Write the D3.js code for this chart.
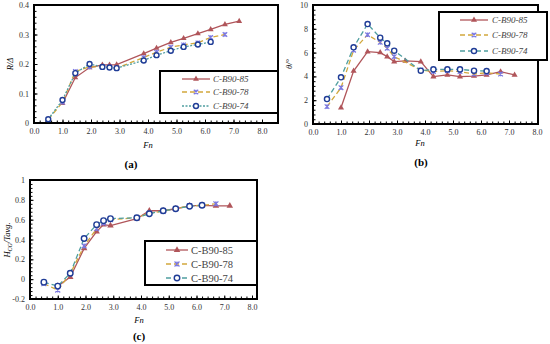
<!DOCTYPE html>
<html>
<head>
<meta charset="utf-8">
<script src="https://cdn.jsdelivr.net/npm/d3@7"></script>
<style>
  body { margin: 0; background: #fff; }
  svg { display: block; font-family: "Liberation Serif", "Times New Roman", serif; }
</style>
</head>
<body>
<div class="chart"></div>
<script>
// series names
var names = ['C-B90-85', 'C-B90-78', 'C-B90-74'];
var xTickLabels = ['0.0','1.0','2.0','3.0','4.0','5.0','6.0','7.0','8.0'];

// Froude numbers per series
var fn85 = [1.0,1.45,1.95,2.4,2.65,2.9,3.85,4.3,4.8,5.25,5.75,6.2,6.7,7.2];
var fn85b = [1.0,1.45,1.95,2.4,2.65,2.9,3.3,3.85,4.3,4.8,5.25,5.75,6.2,6.7,7.2];
var fn78 = [0.5,1.0,1.45,1.95,2.4,2.65,2.9,3.85,4.3,4.8,5.25,5.75,6.2,6.7];
var fn74 = [0.5,1.0,1.45,1.95,2.4,2.65,2.9,3.85,4.3,4.8,5.25,5.75,6.2];

// (a) R/Delta
var rA85 = [0.067,0.154,0.188,0.197,0.197,0.198,0.235,0.254,0.273,0.287,0.303,0.317,0.334,0.345];
var rA78 = [0.012,0.07,0.175,0.19,0.19,0.19,0.186,0.222,0.24,0.257,0.265,0.272,0.29,0.3];
var rA74 = [0.013,0.078,0.169,0.2,0.19,0.188,0.186,0.212,0.23,0.245,0.258,0.266,0.275];

// (b) theta
var thB85 = [1.37,4.45,6.08,6.0,5.66,5.24,5.3,5.24,3.98,4.12,3.98,4.03,4.12,4.4,4.12];
var thB78 = [1.46,3.05,6.2,7.5,6.86,6.36,5.66,4.54,4.4,4.48,4.4,4.2,4.3,4.2];
var thB74 = [2.1,3.92,6.44,8.4,7.25,6.78,6.16,4.48,4.59,4.59,4.59,4.48,4.45];

// (c) Hcg/Tavg
var hC85 = [-0.07,0.02,0.31,0.48,0.55,0.54,0.61,0.69,0.69,0.71,0.74,0.745,0.74,0.74];
var hC78 = [-0.045,-0.11,0.055,0.335,0.51,0.565,0.6,0.62,0.665,0.685,0.71,0.74,0.745,0.76];
var hC74 = [-0.03,-0.07,0.06,0.41,0.55,0.59,0.61,0.62,0.66,0.69,0.71,0.735,0.745];

var yTicksA = [0,0.1,0.2,0.3,0.4];
var yTicksB = [0,2,4,6,8,10];
var yTicksC = [-0.2,0,0.2,0.4,0.6,0.8,1];

// look of the three series
var styles = [
  {line:'#b0555a', dash:null, marker:'tri', mk:'#b0555a'},
  {line:'#d2a83c', dash:'5,3', marker:'x', mk:'#7b78e0'},
  {line:'#4f9ea0', dash:'3,2', marker:'circ', mk:'#1f3c96'}
];

var svg = d3.select('.chart').append('svg')
  .attr('width', 550).attr('height', 344)
  .style('background', '#fff');

function panel(p) {
  var g = svg.append('g');
  var x = d3.scaleLinear().domain([0, 8]).range([p.x0, p.x8]);
  var y = d3.scaleLinear().domain(p.yDom).range([p.bottom, p.top]);

  // minor ticks
  g.append('g').attr('transform', 'translate(0,' + p.bottom + ')')
    .call(d3.axisBottom(x).tickValues(d3.range(0, 8.01, 0.2)).tickSize(-2.5).tickFormat(''))
    .call(function(s){ s.select('.domain').remove(); });
  g.append('g').attr('transform', 'translate(' + p.x0 + ',0)')
    .call(d3.axisLeft(y).tickValues(d3.range(p.yDom[0], p.yDom[1] + p.yMinor/2, p.yMinor)).tickSize(-2.5).tickFormat(''))
    .call(function(s){ s.select('.domain').remove(); });

  // labelled axes
  var xa = g.append('g').attr('transform', 'translate(0,' + p.bottom + ')')
    .call(d3.axisBottom(x).tickValues(d3.range(0, 9)).tickSize(-3.5).tickPadding(5)
      .tickFormat(function(d, i){ return xTickLabels[i]; }));
  var ya = g.append('g').attr('transform', 'translate(' + p.x0 + ',0)')
    .call(d3.axisLeft(y).tickValues(p.yTicks).tickSize(-3.5).tickPadding(5).tickFormat(p.yFmt));
  [xa, ya].forEach(function(a){
    a.select('.domain').remove();
    a.selectAll('text').attr('font-size', 8).attr('fill', '#333')
      .attr('font-family', '"Liberation Serif", serif');
  });
  g.selectAll('.tick line').attr('stroke', '#000').attr('stroke-width', 1);

  // frame
  g.append('rect').attr('x', p.x0).attr('y', p.top)
    .attr('width', p.right - p.x0).attr('height', p.bottom - p.top)
    .attr('fill', 'none').attr('stroke', '#000').attr('stroke-width', 2);

  // series
  p.series.forEach(function(s, i){
    var st = styles[i];
    var pts = s.fn.map(function(f, k){ return [x(f), y(s.v[k])]; });
    g.append('path').attr('d', d3.line()(pts))
      .attr('fill', 'none').attr('stroke', st.line).attr('stroke-width', 1.3)
      .attr('stroke-dasharray', i == 2 ? p.dash74 : st.dash);
    pts.forEach(function(q){ marker(g, st, q[0], q[1], p.mr); });
  });

  // legend
  var L = p.legend;
  g.append('rect').attr('x', L.x).attr('y', L.y).attr('width', L.w).attr('height', L.h)
    .attr('fill', '#fff').attr('stroke', '#000').attr('stroke-width', 2);
  names.forEach(function(n, i){
    var st = styles[i], yy = L.rows[i];
    g.append('line').attr('x1', L.l0).attr('x2', L.l1).attr('y1', yy).attr('y2', yy)
      .attr('stroke', st.line).attr('stroke-width', 1.3)
      .attr('stroke-dasharray', i == 2 ? p.dash74 : st.dash);
    marker(g, st, (L.l0 + L.l1) / 2, yy, p.mr);
    g.append('text').attr('x', L.tx).attr('y', yy + L.fs * 0.35).text(n)
      .attr('font-size', L.fs).attr('fill', '#444')
      .attr('font-style', L.italic ? 'italic' : 'normal');
  });

  // axis titles and panel tag
  g.append('text').attr('x', p.fnX).attr('y', p.fnY).text('Fn')
    .attr('font-size', 8.5).attr('font-style', 'italic').attr('text-anchor', 'middle');
  g.append('text').attr('x', p.tagX).attr('y', p.tagY).text(p.tag)
    .attr('font-size', 11).attr('font-weight', 'bold').attr('text-anchor', 'middle');
  var yl = g.append('text').attr('transform', 'translate(' + p.ylX + ',' + p.ylY + ') rotate(-90)')
    .attr('font-size', 8.5).attr('font-style', 'italic').attr('text-anchor', 'middle');
  p.ylab(yl);
}

function marker(g, st, cx, cy, r) {
  if (st.marker == 'tri') {
    g.append('path').attr('transform', 'translate(' + cx + ',' + cy + ')')
      .attr('d', d3.symbol(d3.symbolTriangle, r * r * 2.2)()).attr('fill', st.mk);
  } else if (st.marker == 'x') {
    var a = r * 0.85;
    g.append('path')
      .attr('d', 'M' + (cx - a) + ',' + (cy - a) + 'L' + (cx + a) + ',' + (cy + a) +
                 'M' + (cx - a) + ',' + (cy + a) + 'L' + (cx + a) + ',' + (cy - a) +
                 'M' + cx + ',' + (cy - a) + 'L' + cx + ',' + (cy + a))
      .attr('stroke', st.mk).attr('stroke-width', 1.2);
  } else {
    g.append('circle').attr('cx', cx).attr('cy', cy).attr('r', r * 0.95)
      .attr('fill', '#fff').attr('stroke', st.mk).attr('stroke-width', 1.4);
  }
}

var fmtPlain = function(d){ return d3.format('')(+d.toFixed(1)).replace('\u2212', '-'); };

panel({
  x0: 34, x8: 262, right: 278, top: 5, bottom: 123,
  yDom: [0, 0.4], yTicks: yTicksA, yMinor: 0.02, yFmt: fmtPlain,
  series: [{fn: fn85, v: rA85}, {fn: fn78, v: rA78}, {fn: fn74, v: rA74}],
  dash74: '2,1.5', mr: 2.6,
  legend: {x: 160, y: 71, w: 118, h: 42, rows: [79, 92, 106], l0: 182, l1: 210, tx: 213, fs: 9, italic: true},
  fnX: 148, fnY: 148, tag: '(a)', tagX: 131, tagY: 168,
  ylX: 13, ylY: 64,
  ylab: function(t){ t.text('R/\u0394'); }
});

panel({
  x0: 313, x8: 537, right: 538, top: 5, bottom: 124,
  yDom: [0, 10], yTicks: yTicksB, yMinor: 0.4, yFmt: d3.format('d'),
  series: [{fn: fn85b, v: thB85}, {fn: fn78, v: thB78}, {fn: fn74, v: thB74}],
  dash74: '5,3', mr: 2.7,
  legend: {x: 439, y: 12, w: 108, h: 48, rows: [20, 35, 51], l0: 460, l1: 488, tx: 492, fs: 9, italic: true},
  fnX: 420, fnY: 146, tag: '(b)', tagX: 421, tagY: 166,
  ylX: 292, ylY: 64,
  ylab: function(t){ t.text('\u03b8/\u00b0'); }
});

panel({
  x0: 30, x8: 252, right: 257, top: 180, bottom: 299,
  yDom: [-0.2, 1], yTicks: yTicksC, yMinor: 0.04, yFmt: fmtPlain,
  series: [{fn: fn85, v: hC85}, {fn: fn78, v: hC78}, {fn: fn74, v: hC74}],
  dash74: '5,3', mr: 2.9,
  legend: {x: 145, y: 241, w: 112, h: 44, rows: [250, 264, 278], l0: 166, l1: 188, tx: 191, fs: 10.5, italic: false},
  fnX: 139, fnY: 323, tag: '(c)', tagX: 139, tagY: 340,
  ylX: 10, ylY: 240,
  ylab: function(t){
    t.append('tspan').text('H');
    t.append('tspan').attr('font-size', 6).attr('dy', 2).text('CG');
    t.append('tspan').attr('dy', -2).text('/Tavg.');
  }
});
</script>
</body>
</html>
